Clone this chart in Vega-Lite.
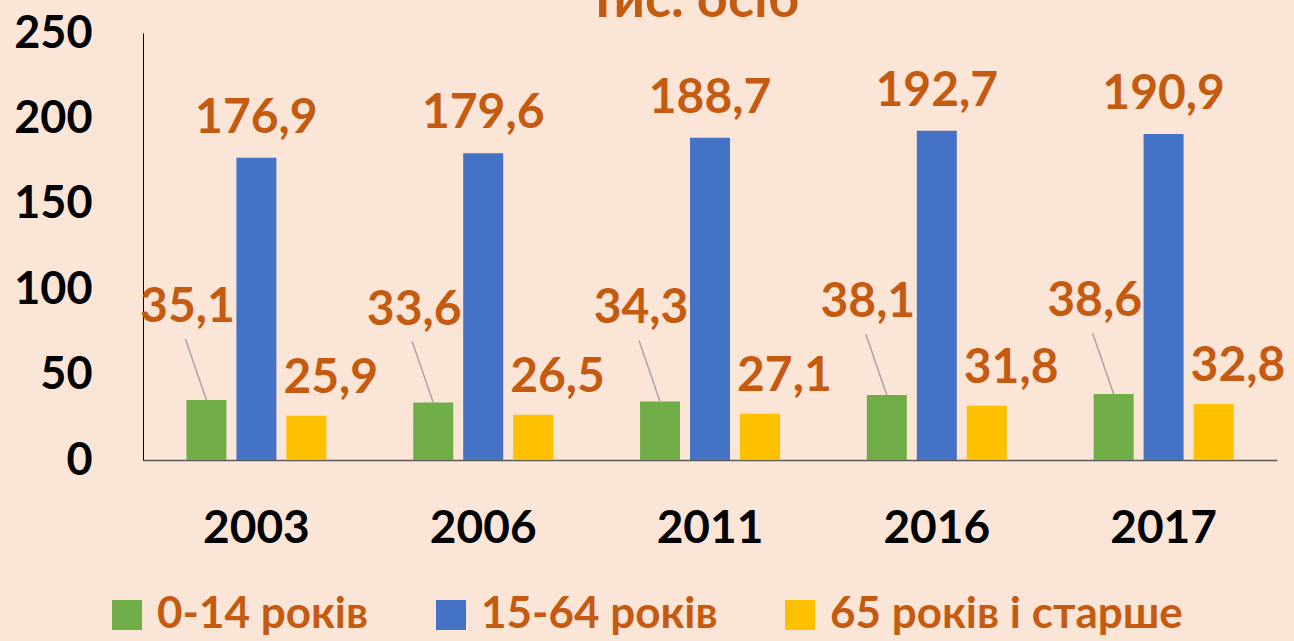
{
  "$schema": "https://vega.github.io/schema/vega-lite/v6.json",
  "width": 1134,
  "height": 427,
  "autosize": {"type": "none"},
  "padding": {"left": 143, "top": 33, "right": 17, "bottom": 181},
  "background": "#FBE5D6",
  "title": {
    "text": "Тис. осіб",
    "color": "#C55A11",
    "font": "Lato",
    "fontSize": 54,
    "fontWeight": "bold",
    "anchor": "middle",
    "dx": -17,
    "offset": -17
  },
  "data": {
    "values": [
      {"year": "2003", "group": "0-14 років", "value": 35.1},
      {"year": "2003", "group": "15-64 років", "value": 176.9},
      {"year": "2003", "group": "65 років і старше", "value": 25.9},
      {"year": "2006", "group": "0-14 років", "value": 33.6},
      {"year": "2006", "group": "15-64 років", "value": 179.6},
      {"year": "2006", "group": "65 років і старше", "value": 26.5},
      {"year": "2011", "group": "0-14 років", "value": 34.3},
      {"year": "2011", "group": "15-64 років", "value": 188.7},
      {"year": "2011", "group": "65 років і старше", "value": 27.1},
      {"year": "2016", "group": "0-14 років", "value": 38.1},
      {"year": "2016", "group": "15-64 років", "value": 192.7},
      {"year": "2016", "group": "65 років і старше", "value": 31.8},
      {"year": "2017", "group": "0-14 років", "value": 38.6},
      {"year": "2017", "group": "15-64 років", "value": 190.9},
      {"year": "2017", "group": "65 років і старше", "value": 32.8}
    ]
  },
  "encoding": {
    "x": {
      "field": "year",
      "type": "nominal",
      "scale": {"paddingInner": 0.383, "paddingOuter": 0.1915},
      "axis": {
        "title": null,
        "labelAngle": 0,
        "labelFont": "Lato",
        "labelFontSize": 46,
        "labelFontWeight": "bold",
        "labelColor": "#000000",
        "labelPadding": 46,
        "ticks": false,
        "domainColor": "#595959",
        "domainWidth": 1.5
      }
    },
    "y": {
      "field": "value",
      "type": "quantitative",
      "scale": {"domain": [0, 250], "nice": false},
      "axis": {
        "title": null,
        "values": [0, 50, 100, 150, 200, 250],
        "labelFont": "Lato",
        "labelFontSize": 45,
        "labelFontWeight": "bold",
        "labelColor": "#000000",
        "labelPadding": 51,
        "ticks": false,
        "grid": false,
        "domainColor": "#000000",
        "domainWidth": 1
      }
    }
  },
  "layer": [
    {
      "mark": {"type": "bar"},
      "encoding": {
        "xOffset": {"field": "group", "type": "nominal", "scale": {"paddingInner": 0.2, "paddingOuter": 0}},
        "color": {
          "field": "group",
          "type": "nominal",
          "scale": {"range": ["#70AD47", "#4472C4", "#FFC000"]},
          "legend": {
            "title": null,
            "orient": "none",
            "direction": "horizontal",
            "legendX": -38,
            "legendY": 560,
            "padding": 0,
            "symbolType": "square",
            "symbolSize": 900,
            "symbolStrokeWidth": 0,
            "labelFont": "Lato",
            "labelFontSize": 44,
            "labelFontWeight": "bold",
            "labelColor": "#C55A11",
            "labelLimit": 600,
            "labelOffset": 8,
            "columnPadding": 60
          }
        }
      }
    },
    {
      "transform": [{"filter": "datum.group == '0-14 років'"}],
      "mark": {"type": "rule", "color": "#A6A6A6", "strokeWidth": 1.5, "xOffset": -50, "x2Offset": -71, "y2Offset": -61},
      "encoding": {
        "x2": {"field": "year"},
        "y2": {"field": "value"}
      }
    },
    {
      "transform": [{"filter": "datum.group == '15-64 років'"}],
      "mark": {"type": "text", "font": "Lato", "fontSize": 48, "fontWeight": "bold", "color": "#C55A11", "baseline": "alphabetic", "dy": -25},
      "encoding": {
        "xOffset": {"field": "group", "type": "nominal"},
        "text": {"field": "value", "type": "quantitative", "format": ".1f"}
      }
    },
    {
      "transform": [{"filter": "datum.group == '0-14 років'"}],
      "mark": {"type": "text", "font": "Lato", "fontSize": 48, "fontWeight": "bold", "color": "#C55A11", "baseline": "alphabetic", "dx": -19, "dy": -78},
      "encoding": {
        "xOffset": {"field": "group", "type": "nominal"},
        "text": {"field": "value", "type": "quantitative", "format": ".1f"}
      }
    },
    {
      "transform": [{"filter": "datum.group == '65 років і старше'"}],
      "mark": {"type": "text", "font": "Lato", "fontSize": 48, "fontWeight": "bold", "color": "#C55A11", "baseline": "alphabetic", "align": "left", "dx": -23, "dy": -23},
      "encoding": {
        "xOffset": {"field": "group", "type": "nominal"},
        "text": {"field": "value", "type": "quantitative", "format": ".1f"}
      }
    }
  ],
  "config": {
    "view": {"stroke": null},
    "locale": {"number": {"decimal": ",", "thousands": " ", "grouping": [3], "currency": ["", " ₴"]}}
  }
}
